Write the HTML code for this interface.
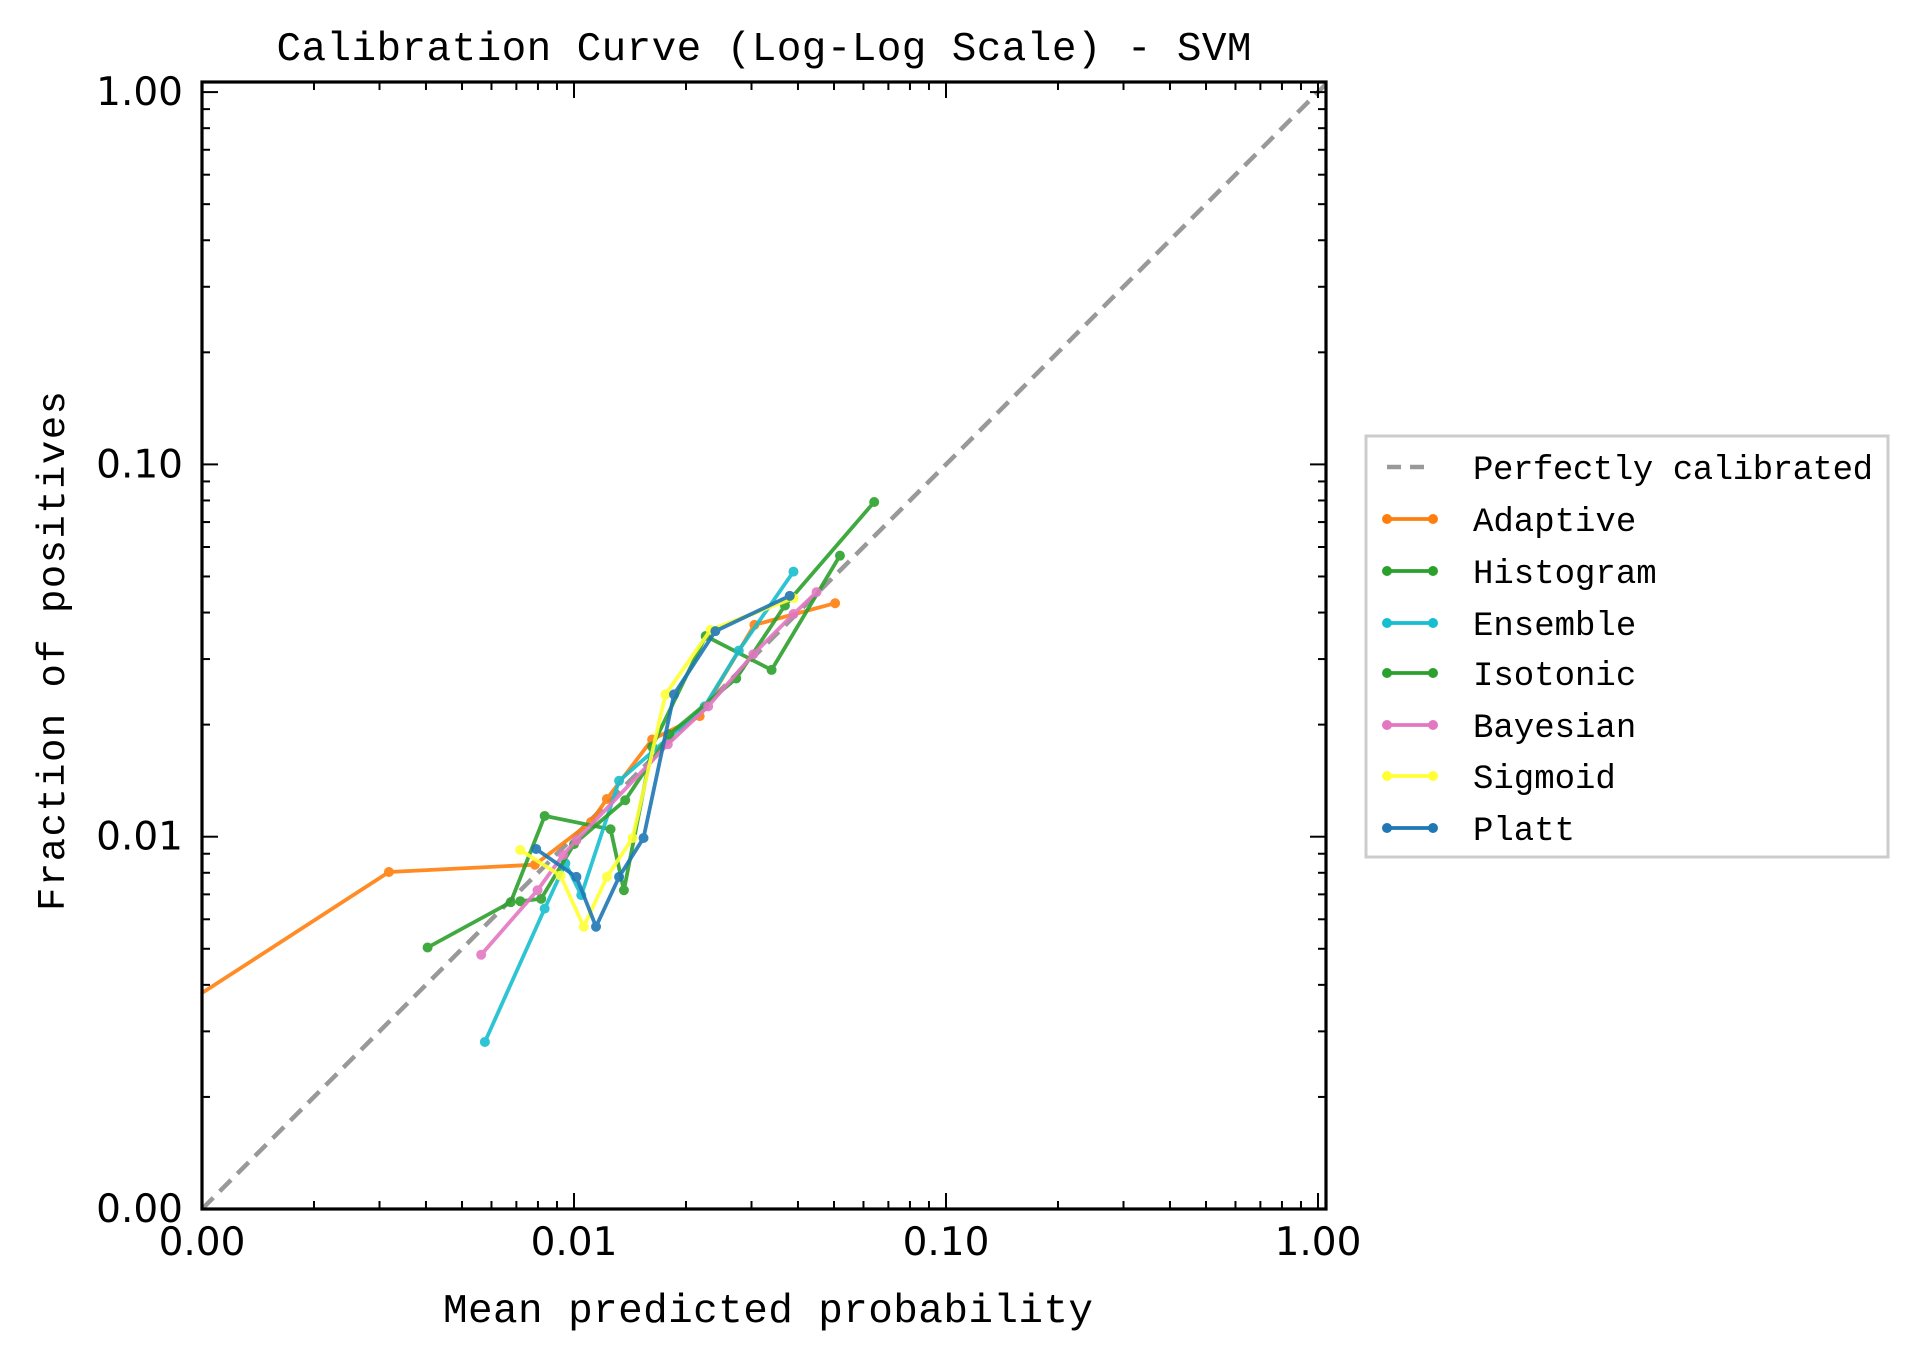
<!DOCTYPE html>
<html><head><meta charset="utf-8"><style>
html,body{margin:0;padding:0;background:#fff;}
svg{display:block;}
.mono{font-family:"Liberation Mono","DejaVu Sans Mono",monospace;}
.sans{font-family:"DejaVu Sans","Liberation Sans",sans-serif;}
</style></head><body>
<svg id="chart" width="1916" height="1358" viewBox="0 0 1916 1358" xmlns="http://www.w3.org/2000/svg">
<defs><clipPath id="plotclip"><rect x="202" y="82" width="1124" height="1127"/></clipPath></defs>
<rect x="0" y="0" width="1916" height="1358" fill="#fff"/>
<text class="mono" x="764" y="60" font-size="41" text-anchor="middle" textLength="975">Calibration Curve (Log-Log Scale) - SVM</text>
<text class="mono" x="768" y="1322" font-size="41" text-anchor="middle" textLength="650">Mean predicted probability</text>
<text class="mono" transform="translate(64,651) rotate(-90)" x="0" y="0" font-size="39" text-anchor="middle" textLength="520">Fraction of positives</text>
<g id="plot" clip-path="url(#plotclip)"></g>
<g id="axes"></g>
<g id="legend"></g>
</svg>
<script>
const seriesNames = ["Adaptive","Histogram","Ensemble","Isotonic","Bayesian","Sigmoid","Platt"];
const seriesColors = ["#ff7f0e","#2ca02c","#17becf","#2ca02c","#e377c2","#ffff33","#1f77b4"];
const adaptiveX = [0.000711,0.00318,0.00785,0.01111,0.01226,0.01622,0.02177,0.03055,0.05035];
const adaptiveY = [0.00305,0.00804,0.00841,0.01095,0.01263,0.01824,0.02108,0.03707,0.04237];
const histogramX = [0.00404,0.00676,0.00834,0.01254,0.01362,0.01622,0.02259,0.03397,0.05187];
const histogramY = [0.00504,0.00667,0.01137,0.01047,0.00718,0.01745,0.03460,0.02805,0.05687];
const ensembleX = [0.00576,0.00834,0.00948,0.01046,0.01322,0.02244,0.02773,0.0389];
const ensembleY = [0.00281,0.00641,0.00848,0.00697,0.01413,0.02239,0.03162,0.05152];
const isotonicX = [0.00717,0.00816,0.01,0.01373,0.01803,0.02729,0.0369,0.06412];
const isotonicY = [0.00671,0.00681,0.00955,0.01253,0.01883,0.02661,0.04178,0.07925];
const bayesianX = [0.00563,0.00798,0.00934,0.01015,0.01787,0.02294,0.03034,0.0389,0.04488];
const bayesianY = [0.00482,0.00718,0.00893,0.00978,0.01771,0.02239,0.03091,0.03963,0.04539];
const sigmoidX = [0.00717,0.0092,0.01062,0.01226,0.01437,0.01762,0.02329,0.0389];
const sigmoidY = [0.00921,0.00786,0.00573,0.0078,0.00992,0.02411,0.03594,0.04375];
const plattX = [0.00791,0.01015,0.01146,0.01322,0.01538,0.01857,0.02399,0.03802];
const plattY = [0.00927,0.0078,0.00573,0.0078,0.00992,0.02411,0.03566,0.04436];
const majorTicks = [0.001,0.01,0.1,1];
const tickLabels = ["0.00","0.01","0.10","1.00"];
const diagonal = [0.001,1.05];

const NS="http://www.w3.org/2000/svg";
const X0=202,X1=1326,Y0=1209,Y1=82;
function xs(v){return 202+(Math.log10(v)+3)*372;}
function ys(v){return 1209-(Math.log10(v)+3)*372.3;}
function mk(tag,attrs,parent){const e=document.createElementNS(NS,tag);for(const k in attrs)e.setAttribute(k,attrs[k]);parent.appendChild(e);return e;}
const plot=document.getElementById('plot'),axes=document.getElementById('axes'),legend=document.getElementById('legend');

const diag=mk('line',{x1:xs(diagonal[0]),y1:ys(diagonal[0]),x2:xs(diagonal[1]),y2:ys(diagonal[1]),stroke:'#999',"stroke-width":4.5,"stroke-dasharray":"16 9"},plot);



const allX=[adaptiveX,histogramX,ensembleX,isotonicX,bayesianX,sigmoidX,plattX];
const allY=[adaptiveY,histogramY,ensembleY,isotonicY,bayesianY,sigmoidY,plattY];
for(let s=0;s<seriesNames.length;s++){
  const g=mk('g',{opacity:0.9},plot);
  
  
  const pts=allX[s].map((x,i)=>xs(x).toFixed(1)+','+ys(allY[s][i]).toFixed(1)).join(' ');
  const pl=mk('polyline',{points:pts,fill:'none',stroke:seriesColors[s],"stroke-width":3.8,"stroke-linejoin":"round"},g);
  
  
  allX[s].forEach((x,i)=>{
    const c=mk('circle',{cx:xs(x),cy:ys(allY[s][i]),r:5,fill:seriesColors[s]},g);
    
    
  });
}

const frame=mk('rect',{x:X0,y:Y1,width:X1-X0,height:Y0-Y1,fill:'none',stroke:'#000',"stroke-width":3.2},axes);


for(let d=-3;d<=0;d++){
  for(let m=1;m<=9;m++){
    const v=m*Math.pow(10,d);
    if(v>1.05)continue;
    const len=(m===1)?16:8;
    const px=xs(v),py=ys(v);
    const t1=mk('line',{x1:px,y1:Y0,x2:px,y2:Y0-len,stroke:'#000',"stroke-width":2},axes);
    
    
    const t2=mk('line',{x1:px,y1:Y1,x2:px,y2:Y1+len,stroke:'#000',"stroke-width":2},axes);
    
    
    const t3=mk('line',{x1:X0,y1:py,x2:X0+len,y2:py,stroke:'#000',"stroke-width":2},axes);
    
    
    const t4=mk('line',{x1:X1,y1:py,x2:X1-len,y2:py,stroke:'#000',"stroke-width":2},axes);
    
    
  }
}
majorTicks.forEach((v,i)=>{
  const tx=mk('text',{x:xs(v),y:1255,"font-size":39,"text-anchor":"middle","class":"sans"},axes);
  tx.textContent=tickLabels[i];
  
  
  const ty=mk('text',{x:183,y:ys(v)+13,"font-size":39,"text-anchor":"end","class":"sans"},axes);
  ty.textContent=tickLabels[i];
  
  
});

const lb=mk('rect',{x:1373,y:436,width:522,height:421,fill:'#fff',stroke:'#ccc',"stroke-width":3},legend);


lb.setAttribute('x','1366');
const rowY=[467,519,571,623,673,725,776,828];
const labels=["Perfectly calibrated"].concat(seriesNames);
labels.forEach((name,i)=>{
  const g=mk('g',{},legend);
  
  
  const y=rowY[i];
  if(i===0){
    mk('line',{x1:1387,y1:y,x2:1433,y2:y,stroke:'#999',"stroke-width":4.5,"stroke-dasharray":"14 9"},g);
  }else{
    const c=seriesColors[i-1];
    mk('line',{x1:1387,y1:y,x2:1433,y2:y,stroke:c,"stroke-width":3.8},g);
    mk('circle',{cx:1387,cy:y,r:5,fill:c},g);
    mk('circle',{cx:1433,cy:y,r:5,fill:c},g);
  }
  const t=mk('text',{x:1473,y:y+12,"font-size":34,"class":"mono"},g);
  t.textContent=name;
  if(i===0)t.setAttribute('textLength','400');
  
  
});
</script>
</body></html>
